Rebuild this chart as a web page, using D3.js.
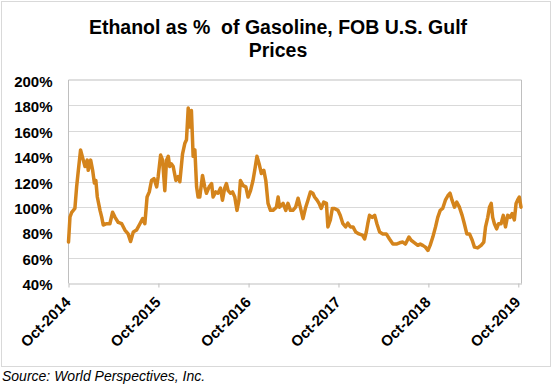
<!DOCTYPE html>
<html>
<head>
<meta charset="utf-8">
<script src="https://cdn.jsdelivr.net/npm/d3@7"></script>
<style>
  html, body { margin: 0; padding: 0; background: #fff; }
  svg { display: block; font-family: "Liberation Sans", Arial, sans-serif; }
</style>
</head>
<body>
<svg id="chart" width="556" height="386"></svg>
<script>
const titleLines = ["Ethanol as %\u00a0 of Gasoline, FOB U.S. Gulf", "Prices"];
const sourceText = "Source: World Perspectives, Inc.";

const yTicks = [40, 60, 80, 100, 120, 140, 160, 180, 200];
const xTickDates = ["2014-10-01", "2015-10-01", "2016-10-01", "2017-10-01", "2018-10-01", "2019-10-01"];
const xTickLabels = ["Oct-2014", "Oct-2015", "Oct-2016", "Oct-2017", "Oct-2018", "Oct-2019"];

const dates = [
  "2014-10-01","2014-10-07","2014-10-14","2014-10-27","2014-11-03","2014-11-10","2014-11-19","2014-11-30",
  "2014-12-07","2014-12-16","2014-12-20","2014-12-30","2015-01-07","2015-01-14","2015-01-20","2015-01-26",
  "2015-02-06","2015-02-13","2015-02-19","2015-03-05","2015-03-18","2015-03-29","2015-04-08","2015-04-21",
  "2015-05-05","2015-05-18","2015-05-31","2015-06-10","2015-06-21","2015-07-04","2015-07-18","2015-07-29",
  "2015-08-07","2015-08-16","2015-08-25","2015-09-03","2015-09-13","2015-09-24","2015-09-30","2015-10-10",
  "2015-10-18","2015-10-27","2015-11-03","2015-11-10","2015-11-16","2015-11-23","2015-11-30","2015-12-11",
  "2015-12-20","2015-12-27","2016-01-07","2016-01-16","2016-01-23","2016-01-30","2016-02-06","2016-02-12",
  "2016-02-19","2016-02-26","2016-03-04","2016-03-10","2016-03-17","2016-03-28","2016-04-06","2016-04-13",
  "2016-04-24","2016-05-04","2016-05-10","2016-05-21","2016-05-30","2016-06-09","2016-06-17","2016-06-26",
  "2016-07-03","2016-07-10","2016-07-20","2016-07-28","2016-08-06","2016-08-15","2016-08-23","2016-08-29",
  "2016-09-09","2016-09-20","2016-09-29","2016-10-09","2016-10-19","2016-10-26","2016-11-04","2016-11-13",
  "2016-11-22","2016-12-02","2016-12-10","2016-12-19","2016-12-29","2017-01-08","2017-01-22","2017-01-29",
  "2017-02-04","2017-02-18","2017-03-01","2017-03-10","2017-03-20","2017-03-30","2017-04-10","2017-04-20",
  "2017-04-29","2017-05-10","2017-05-21","2017-05-30","2017-06-09","2017-06-19","2017-06-26","2017-07-06",
  "2017-07-14","2017-07-23","2017-08-02","2017-08-13","2017-08-19","2017-08-29","2017-09-06","2017-09-15",
  "2017-09-29","2017-10-08","2017-10-19","2017-10-30","2017-11-08","2017-11-18","2017-11-29","2017-12-10",
  "2017-12-23","2018-01-06","2018-01-15","2018-01-22","2018-01-28","2018-02-04","2018-02-15","2018-02-25",
  "2018-03-06","2018-03-17","2018-03-30","2018-04-13","2018-04-26","2018-05-10","2018-05-24","2018-06-06",
  "2018-06-19","2018-06-30","2018-07-14","2018-07-23","2018-08-06","2018-08-19","2018-08-29","2018-09-08",
  "2018-09-19","2018-09-29","2018-10-08","2018-10-19","2018-10-30","2018-11-08","2018-11-18","2018-11-28",
  "2018-12-09","2018-12-19","2018-12-28","2019-01-05","2019-01-15","2019-01-24","2019-02-04","2019-02-15",
  "2019-02-24","2019-03-06","2019-03-17","2019-03-28","2019-04-06","2019-04-19","2019-05-03","2019-05-14",
  "2019-05-21","2019-05-30","2019-06-06","2019-06-13","2019-06-19","2019-06-26","2019-07-05","2019-07-13",
  "2019-07-23","2019-08-01","2019-08-10","2019-08-19","2019-08-29","2019-09-06","2019-09-15","2019-09-22",
  "2019-09-28","2019-10-05","2019-10-12"
];
const ratio = [
  72.6,92.3,96,99,116,129,145,137,
  132,137,129,137,129,119,121,108,
  97.5,92,86,87,87,96,92,88,
  87,82,79,73,80.5,82,87,91,
  87,108,112,121,122.5,116,124,141,
  137,113,137,140,132,134,132,121,
  124,120,142,150,153,178,163,176,
  140,145,116,108,108,125,116,111,
  116,118.6,108,112,111,115,105.5,115,
  118.6,113,111,112,108,97.5,105.5,121,
  117,116,108,113,121,129,140,134,
  126.5,129,121,103,97.5,97.5,100,108,
  100,103,97.5,103,97.5,97.5,100,107,
  100,91,100,105.5,112,111,108,105.5,
  103,99,104,103,84.5,90,99,99,
  97.5,93.6,87,84.5,87.5,84.5,84.5,80.5,
  79,78,75,80.5,87,93.6,92,93.6,
  87,80.5,79,79,75,71,71,72,
  72.6,71,76.5,74,72,70,71,70,
  68.6,66,70,76.5,84.5,92,97.5,99,
  105.5,109,111,105.5,100,104,100,93.6,
  87,79,79,74,68.6,68,70,72.6,
  84.5,92,100,103,92,87,83,87,
  87,93.6,84.5,93.6,92,95,90,103,
  105.5,108,100
];

const parse = d3.timeParse("%Y-%m-%d");
const data = dates.map((d, i) => ({ date: parse(d), value: ratio[i] }));

const svg = d3.select("#chart");
const W = 556, H = 386;
const plot = { left: 68.5, right: 521.5, top: 80, bottom: 283.5 };

// outer frame
svg.append("rect")
  .attr("x", 1.5).attr("y", 1.5).attr("width", 549).attr("height", 365)
  .attr("fill", "#fff").attr("stroke", "#d9d9d9").attr("stroke-width", 1);

const x = d3.scaleTime()
  .domain([parse("2014-10-01"), parse("2019-10-14")])
  .range([plot.left, plot.right]);
const y = d3.scaleLinear().domain([40, 200]).range([plot.bottom, plot.top]);

// gridlines
svg.append("g")
  .selectAll("line")
  .data(yTicks.filter(v => v > 40 && v < 200))
  .join("line")
  .attr("x1", plot.left).attr("x2", plot.right)
  .attr("y1", d => Math.round(y(d)) + 0.5).attr("y2", d => Math.round(y(d)) + 0.5)
  .attr("stroke", "#d9d9d9").attr("stroke-width", 1);

// plot border (top, right, left)
svg.append("path")
  .attr("d", `M${plot.left},${plot.bottom}V${plot.top}H${plot.right}V${plot.bottom}`)
  .attr("fill", "none").attr("stroke", "#bfbfbf").attr("stroke-width", 1);

// y axis labels
const yAxis = d3.axisLeft(y).tickValues(yTicks).tickSize(0).tickPadding(16)
  .tickFormat(d => d + "%");
const gy = svg.append("g").attr("transform", `translate(${plot.left},0)`).call(yAxis);
gy.select(".domain").remove();
gy.selectAll("text")
  .attr("font-family", "'Liberation Sans', Arial, sans-serif")
  .attr("font-size", 15).attr("font-weight", "bold").attr("fill", "#000")
  .attr("dy", "0.42em");

// x axis
const xAxis = d3.axisBottom(x)
  .tickValues(xTickDates.map(parse))
  .tickSize(4).tickSizeOuter(0)
  .tickFormat((d, i) => xTickLabels[i]);
const gx = svg.append("g").attr("transform", `translate(0,${plot.bottom})`).call(xAxis);
gx.select(".domain").attr("stroke", "#bfbfbf");
gx.selectAll(".tick line").attr("stroke", "#bfbfbf");
gx.selectAll("text")
  .attr("font-family", "'Liberation Sans', Arial, sans-serif")
  .attr("font-size", 15).attr("font-weight", "bold").attr("fill", "#000")
  .attr("text-anchor", "end")
  .attr("x", 0).attr("y", 0).attr("dy", "0.35em")
  .attr("transform", "translate(-1,16) rotate(-45)");

// line
const line = d3.line().x(d => x(d.date)).y(d => y(d.value)).curve(d3.curveLinear);
svg.append("path")
  .datum(data)
  .attr("d", line)
  .attr("fill", "none")
  .attr("stroke", "#d4841c")
  .attr("stroke-width", 3.5)
  .attr("stroke-linejoin", "round")
  .attr("stroke-linecap", "round");

// title
svg.append("g").selectAll("text")
  .data(titleLines)
  .join("text")
  .attr("x", 278).attr("y", (d, i) => 33.5 + i * 23)
  .attr("text-anchor", "middle")
  .attr("font-size", 19.5).attr("font-weight", "bold").attr("fill", "#000")
  .text(d => d);

// source
svg.append("text")
  .attr("x", 2).attr("y", 381)
  .attr("font-size", 14).attr("font-style", "italic").attr("fill", "#000")
  .text(sourceText);
</script>
</body>
</html>
